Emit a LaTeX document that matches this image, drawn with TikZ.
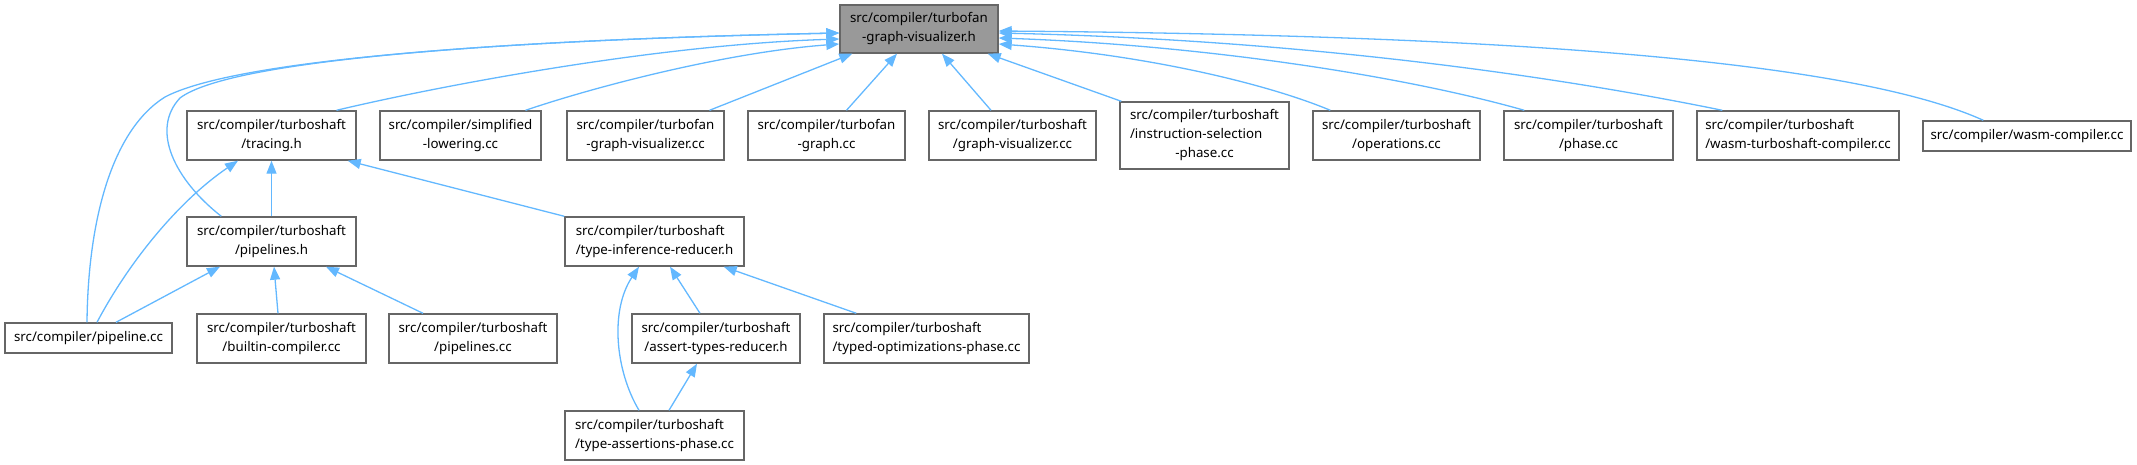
\documentclass[tikz,border=0pt]{standalone}
\usepackage{fontspec}
\setmainfont{Noto Sans}
\usetikzlibrary{arrows.meta,calc}
\definecolor{edgec}{HTML}{63B8FF}
\definecolor{bordc}{HTML}{666666}
\definecolor{rootf}{HTML}{999999}
\newcommand\lftln[2]{\setbox0\hbox{#1}\hbox to \wd0{#2\hfil}}
\begin{document}
\begin{tikzpicture}[x=1pt,y=-1pt,
  box/.style={draw=bordc,line width=1.4pt,fill=white,inner sep=0pt,
    font=\fontsize{13.3}{19}\selectfont,align=center,minimum height=49pt},
  lbox/.style={box,align=left},
  edge/.style={draw=edgec,line width=1.3pt,-{Triangle[length=13pt,width=10pt]}}]
\useasboundingbox (0,0) rectangle (2137,465);
% nodes
\node[box,fill=rootf,minimum width=158pt,minimum height=48pt] (root) at (919,29) {src/compiler/turbofan\\-graph-visualizer.h};
\node[box,minimum width=169pt] (tracing) at (271.5,135.5) {src/compiler/turboshaft\\/tracing.h};
\node[box,minimum width=161pt] (simpl) at (460.5,135.5) {src/compiler/simplified\\-lowering.cc};
\node[box,minimum width=157pt] (tfgv) at (645.5,135.5) {src/compiler/turbofan\\-graph-visualizer.cc};
\node[box,minimum width=157pt] (tfg) at (826.5,135.5) {src/compiler/turbofan\\-graph.cc};
\node[box,minimum width=167pt] (tsgv) at (1012.5,135.5) {src/compiler/turboshaft\\/graph-visualizer.cc};
\node[box,minimum width=169pt,minimum height=67pt] (instr) at (1204.5,135.5) {src/compiler/turboshaft\\\lftln{src/compiler/turboshaft}{/instruction-selection}\\-phase.cc};
\node[box,minimum width=167pt] (ops) at (1396.5,135.5) {src/compiler/turboshaft\\/operations.cc};
\node[box,minimum width=169pt] (phase) at (1588.5,135.5) {src/compiler/turboshaft\\/phase.cc};
\node[lbox,minimum width=202pt] (wtc) at (1798,135.5) {src/compiler/turboshaft\\/wasm-turboshaft-compiler.cc};
\node[box,minimum width=208pt,minimum height=30pt] (wasm) at (2027,136) {src/compiler/wasm-compiler.cc};
\node[box,minimum width=169pt] (pipelinesh) at (271.5,241.5) {src/compiler/turboshaft\\/pipelines.h};
\node[lbox,minimum width=179pt] (tir) at (654.5,241.5) {src/compiler/turboshaft\\/type-inference-reducer.h};
\node[box,minimum width=167pt,minimum height=30pt] (pipelinecc) at (88.5,338) {src/compiler/pipeline.cc};
\node[box,minimum width=169pt] (builtin) at (281.5,338.5) {src/compiler/turboshaft\\/builtin-compiler.cc};
\node[box,minimum width=168pt] (pipelinescc) at (473,338.5) {src/compiler/turboshaft\\/pipelines.cc};
\node[box,minimum width=168pt] (assert) at (716,338.5) {src/compiler/turboshaft\\/assert-types-reducer.h};
\node[lbox,minimum width=205pt] (typedopt) at (926.5,338.5) {src/compiler/turboshaft\\/typed-optimizations-phase.cc};
\node[lbox,minimum width=179pt] (tap) at (654.5,435.5) {src/compiler/turboshaft\\/type-assertions-phase.cc};
% edges into root
\draw[edge] ($(tracing.north)+(65,0)$) .. controls (430,88) and (650,45) .. ($(root.west)+(0,10)$);
\draw[edge] ($(simpl.north)+(65,0)$) .. controls (600,85) and (730,52) .. ($(root.west)+(0,15)$);
\draw[edge] ($(tfgv.north)+(64,0)$) -- ($(root.south west)+(13,0)$);
\draw[edge] ($(tfg.north)+(20,0)$) -- ($(root.south)+(-22,0)$);
\draw[edge] ($(tsgv.north)+(-21.5,0)$) -- ($(root.south)+(23,0)$);
\draw[edge] ($(instr.north west)+(2,0)$) -- ($(root.south east)+(-11,0)$);
\draw[edge] ($(ops.north west)+(18,0)$) .. controls (1270,85) and (1150,55) .. ($(root.east)+(0,15)$);
\draw[edge] ($(phase.north west)+(21,0)$) .. controls (1400,75) and (1200,45) .. ($(root.east)+(0,9)$);
\draw[edge] ($(wtc.north west)+(26,0)$) .. controls (1550,75) and (1300,40) .. ($(root.east)+(0,4)$);
\draw[edge] ($(wasm.north west)+(61,0)$) .. controls (1850,60) and (1500,35) .. ($(root.east)+(0,2)$);
\draw[edge] ($(pipelinesh.north west)+(35,0)$) .. controls (175,180) and (150,130) .. (180,98) .. controls (230,60) and (500,40) .. ($(root.west)+(0,4)$);
\draw[edge] ($(pipelinecc.north)+(-1.5,0)$) .. controls (88,220) and (112,130) .. (165,97) .. controls (235,60) and (500,40) .. ($(root.west)+(0,4)$);
% other edges
\draw[edge] (pipelinesh.north) -- (tracing.south);
\draw[edge] ($(pipelinecc.north)+(8.5,0)$) .. controls (130,260) and (180,200) .. ($(tracing.south)+(-33.5,0)$);
\draw[edge] (tir.north west) -- ($(tracing.south east)+(-9,0)$);
\draw[edge] ($(pipelinecc.north)+(27.5,0)$) -- ($(pipelinesh.south)+(-51.5,0)$);
\draw[edge] ($(builtin.north)+(-3.5,0)$) -- ($(pipelinesh.south)+(2.5,0)$);
\draw[edge] ($(pipelinescc.north)+(-50,0)$) -- ($(pipelinesh.south)+(54.5,0)$);
\draw[edge] ($(tap.north)+(-15.5,0)$) .. controls (615,370) and (610,310) .. ($(tir.south)+(-15.5,0)$);
\draw[edge] ($(assert.north)+(-16,0)$) -- ($(tir.south)+(15.5,0)$);
\draw[edge] ($(typedopt.north west)+(33,0)$) -- ($(tir.south east)+(-21,0)$);
\draw[edge] ($(tap.north)+(14.5,0)$) -- ($(assert.south)+(-19,0)$);
\end{tikzpicture}
\end{document}
